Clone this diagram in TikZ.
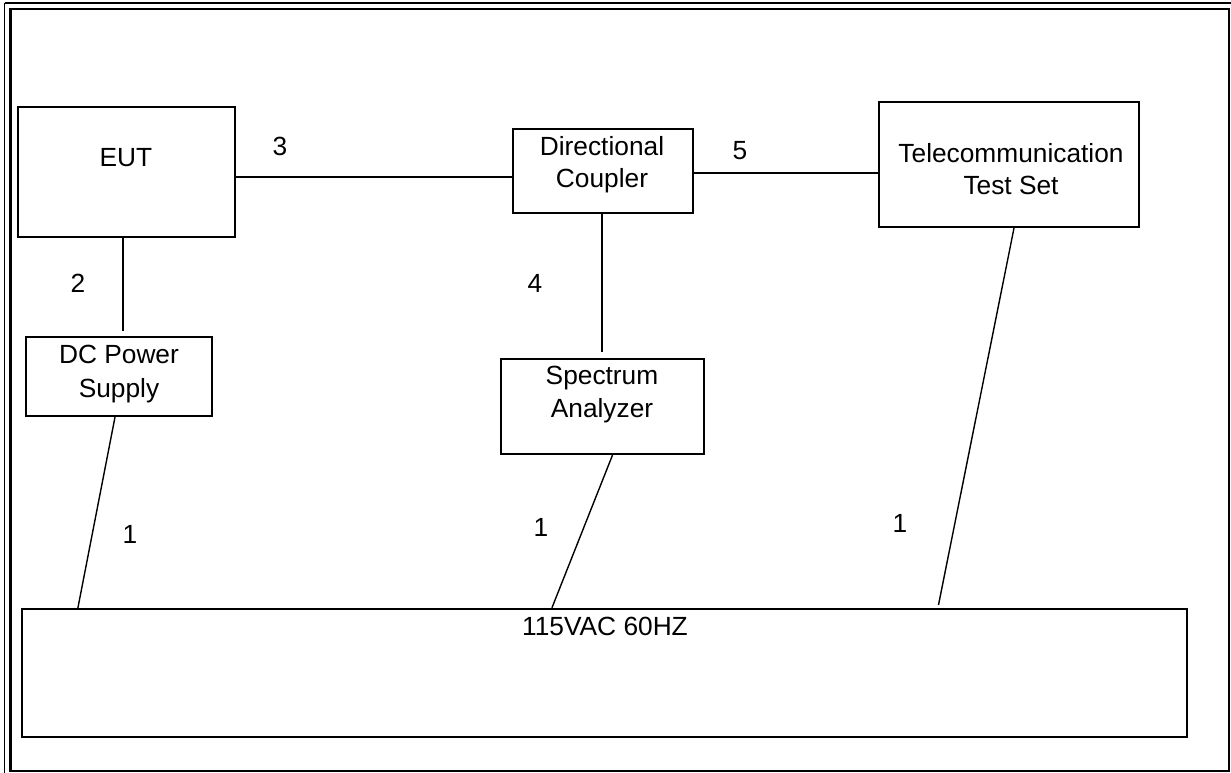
\documentclass[tikz,border=0pt]{standalone}
\usepackage{fontspec}
\setmainfont{Liberation Sans}
\begin{document}
\begin{tikzpicture}[x=1pt,y=-1pt,
  every node/.style={font=\fontsize{26.3}{33}\selectfont},
  unit/.style={draw, line width=2.2pt, rectangle, inner sep=0pt},
  txt/.style={anchor=base, inner sep=0pt},
  wire/.style={line width=1.4pt},
  frame/.style={line width=2.6pt}]
\useasboundingbox (0,0) rectangle (1231,773);
\fill[white] (0,0) rectangle (1231,773);
% frame
\draw[frame] (10.5,9) rectangle (1229,771);
\draw[line width=1.8pt] (4.5,3) -- (1231,3);
\draw[line width=1.8pt] (4.5,3) -- (4.5,773);
% boxes
\node[unit, minimum width=217pt, minimum height=130pt] (eut) at (126.5,172) {};
\node[unit, minimum width=186pt, minimum height=79pt] (dc) at (119,376.5) {};
\node[unit, minimum width=180pt, minimum height=84pt] (dcpl) at (603,171) {};
\node[unit, minimum width=203pt, minimum height=95pt] (spec) at (602.5,406.5) {};
\node[unit, minimum width=260pt, minimum height=125pt] (tel) at (1009,164.5) {};
\node[unit, minimum width=1165pt, minimum height=128pt] (mains) at (604.5,673) {};
% texts
\node[txt] (teut) at (126,166) {EUT};
\node[txt] (tdcpl1) at (602,155) {Directional};
\node[txt] (tdcpl2) at (602,187) {Coupler};
\node[txt] (ttel1) at (1011,162) {Telecommunication};
\node[txt] (ttel2) at (1011,194) {Test Set};
\node[txt] (tdc1) at (119,363) {DC Power};
\node[txt] (tdc2) at (119,397) {Supply};
\node[txt] (tspec1) at (602,384) {Spectrum};
\node[txt] (tspec2) at (602,417) {Analyzer};
\node[txt] (tmains) at (605,635) {115VAC 60HZ};
% cable numbers
\node[txt] (n3) at (280,156) {3};
\node[txt] (n5) at (740,159) {5};
\node[txt] (n2) at (78,292) {2};
\node[txt] (n4) at (535,292) {4};
\node[txt] (n1a) at (130,543) {1};
\node[txt] (n1b) at (541,536) {1};
\node[txt] (n1c) at (900,532) {1};
% connectors
\draw[wire] ([yshift=-5pt]eut.east) -- ([yshift=-5pt]eut.east -| dcpl.west);
\draw[wire] ([yshift=-2pt]dcpl.east) -- ([yshift=-2pt]dcpl.east -| tel.west);
\draw[wire, shorten >=5pt] ([xshift=-3.5pt]eut.south) -- ([xshift=-3.5pt]eut.south |- dc.north);
\draw[wire, shorten >=6pt] ([xshift=-1pt]dcpl.south) -- ([xshift=-1pt]dcpl.south |- spec.north);
\draw[wire] ([xshift=-4pt]dc.south) -- ([xshift=57pt]mains.north west);
\draw[wire] ([xshift=10pt]spec.south) -- ([xshift=531pt]mains.north west);
\draw[wire, shorten >=3pt] ([xshift=5pt]tel.south) -- ([xshift=917pt]mains.north west);
\end{tikzpicture}
\end{document}
